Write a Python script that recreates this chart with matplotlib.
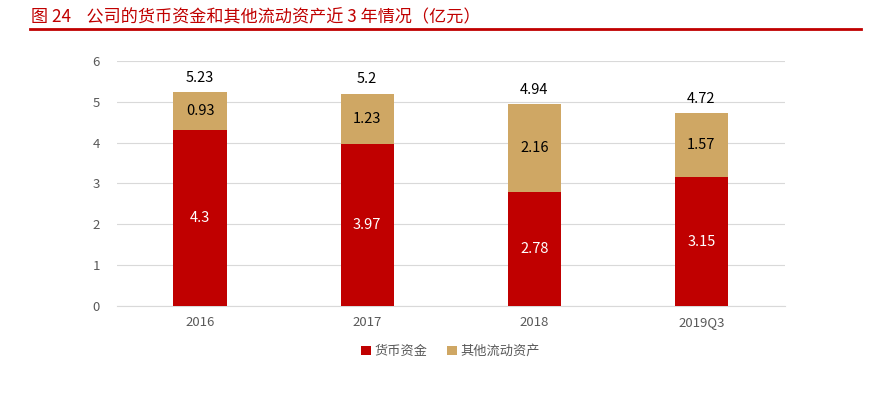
import matplotlib
matplotlib.use("Agg")
import matplotlib.pyplot as plt
import numpy as np

plt.rcParams['font.family'] = ['Noto Sans CJK SC', 'DejaVu Sans']

categories = ['2016', '2017', '2018', '2019Q3']
cash = [4.3, 3.97, 2.78, 3.15]
other = [0.93, 1.23, 2.16, 1.57]
totals = [5.23, 5.2, 4.94, 4.72]
total_labels = ['5.23', '5.2', '4.94', '4.72']
series_names = ['货币资金', '其他流动资产']
title = '图 24    公司的货币资金和其他流动资产近 3 年情况（亿元）'

red = '#C00000'
tan = '#CFA764'

fig = plt.figure(figsize=(8.71, 3.98), dpi=100)
fig.text(0.036, 0.978, title, color='#C00000', fontsize=12.3, va='top', ha='left')
fig.add_artist(plt.Line2D([0.034, 0.988], [0.927, 0.927], color='#C00000', lw=2))

ax = fig.add_axes([0.134, 0.231, 0.767, 0.616])
x = np.arange(len(categories))
w = 0.32
ax.bar(x, cash, w, color=red, label=series_names[0], zorder=3)
ax.bar(x, other, w, bottom=cash, color=tan, label=series_names[1], zorder=3)

for i in range(len(x)):
    ax.text(x[i], cash[i] / 2, f'{cash[i]:g}', ha='center', va='center', color='white', fontsize=10.5, zorder=4)
    ax.text(x[i], cash[i] + other[i] / 2, f'{other[i]:g}', ha='center', va='center', color='black', fontsize=10.5, zorder=4)
    ax.text(x[i], totals[i] + 0.18, total_labels[i], ha='center', va='bottom', color='black', fontsize=10.5, zorder=4)

ax.set_xlim(-0.5, len(x) - 0.5)
ax.set_ylim(0, 6)
ax.set_yticks(range(0, 7))
ax.set_xticks(x)
ax.set_xticklabels(categories)
ax.yaxis.grid(True, color='#D9D9D9', lw=0.8, zorder=0)
for s in ['top', 'right', 'left']:
    ax.spines[s].set_visible(False)
ax.spines['bottom'].set_color('#D9D9D9')
ax.tick_params(axis='both', length=0, colors='#595959', labelsize=9.5)
ax.tick_params(axis='y', pad=12)
ax.tick_params(axis='x', pad=7)

ax.legend(loc='upper center', bbox_to_anchor=(0.5, -0.11), ncol=2, frameon=False,
          fontsize=9.5, handlelength=0.7, handleheight=0.7, handletextpad=0.3,
          columnspacing=1.5, labelcolor='#595959')

fig.savefig('out.png', dpi=100)
